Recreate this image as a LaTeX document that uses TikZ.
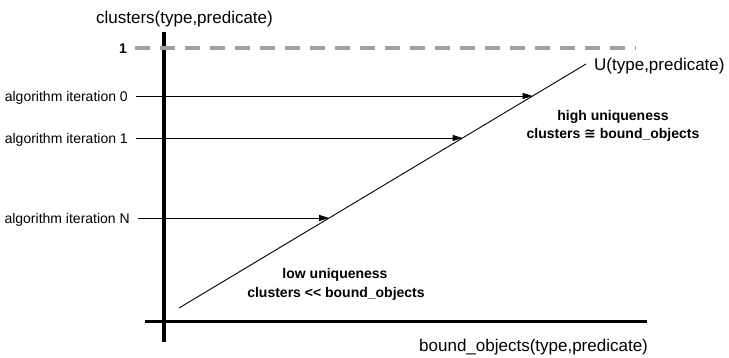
\documentclass[tikz,border=0pt]{standalone}
\usepackage{fontspec}
\setmainfont{Liberation Sans}
\newfontfamily\symfont{DejaVu Sans}
\usetikzlibrary{arrows.meta,calc}
\definecolor{dashgray}{RGB}{160,160,160}
\begin{document}
\begin{tikzpicture}[x=1pt,y=-1pt,
  axis/.style={line width=3.4pt},
  arr/.style={line width=0.9pt,-{Triangle[length=10pt,width=6pt]}},
  ulabel/.style={font=\fontsize{14}{16}\selectfont, inner xsep=8pt, inner ysep=0pt, anchor=base east},
  axlab/.style={font=\fontsize{17}{20}\selectfont, inner sep=0pt},
  note/.style={font=\fontsize{14}{16}\selectfont\bfseries, inner sep=0pt, anchor=base}]
\useasboundingbox (0,0) rectangle (729,357);
% axes
\coordinate (ytop) at (164,32);
\coordinate (ybot) at (164,342);
\coordinate (xl) at (145,321.5);
\coordinate (xr) at (647,321.5);
\draw[axis] (ytop) -- (ybot);
\draw[axis] (xl) -- (xr);
% axis titles
\node[axlab, anchor=base] (ytitle) at (184.5,23) {clusters(type,predicate)};
\node[axlab, anchor=base west] (xtitle) at (419,351) {bound\_objects(type,predicate)};
% level 1
\node[font=\fontsize{14}{16}\selectfont\bfseries, inner xsep=8pt, inner ysep=0pt, anchor=base east] (one) at (135,53) {1};
\coordinate (oneend) at (636,48);
\draw[dashgray, line width=3.4pt, dash pattern=on 14.5pt off 10.5pt] (one.east |- oneend) -- (oneend);
% U line
\coordinate (u0) at (179,308);
\coordinate (u1) at (586,64);
\draw[line width=0.9pt] (u0) -- (u1);
\node[axlab, anchor=base west] (ulab) at (594,70.5) {U(type,predicate)};
% iterations
\coordinate (p0) at ($(u0)!0.8689!(u1)$);
\coordinate (p1) at ($(u0)!0.6967!(u1)$);
\coordinate (pN) at ($(u0)!0.3689!(u1)$);
\node[ulabel] (i0) at (136,101) {algorithm iteration 0};
\node[ulabel] (i1) at (136,143) {algorithm iteration 1};
\node[ulabel] (iN) at (138,223) {algorithm iteration N};
\draw[arr] (i0.east |- p0) -- (p0);
\draw[arr] (i1.east |- p1) -- (p1);
\draw[arr] (iN.east |- pN) -- (pN);
% region notes
\node[note] (hi1) at (613,120) {high uniqueness};
\node[note] (hi2) at (613,138.3) {clusters {\symfont\bfseries ≅} bound\_objects};
\node[note] (lo1) at (335,278.7) {low uniqueness};
\node[note] (lo2) at (336,297) {clusters <\kern0pt< bound\_objects};
\end{tikzpicture}
\end{document}
